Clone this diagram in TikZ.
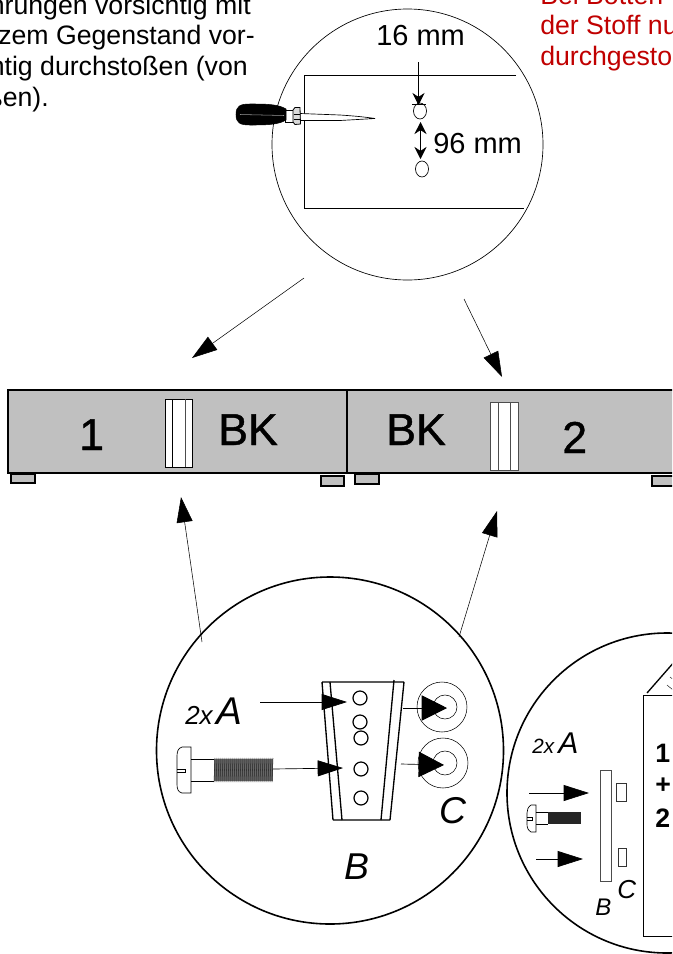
\documentclass[tikz,border=0pt]{standalone}
\usepackage{fontspec}
\setmainfont{Liberation Sans}
\newfontfamily\barfont[FakeBold=1]{Liberation Sans}
\usetikzlibrary{arrows.meta}
\definecolor{barfill}{HTML}{C0C0C0}
\definecolor{notered}{HTML}{C00000}
\tikzset{
    note/.style={anchor=base east, inner sep=0pt, font=\fontsize{20}{24}\selectfont},
    rednote/.style={anchor=base west, inner sep=0pt, text=notered, font=\fontsize{20}{24}\selectfont},
    dim/.style={anchor=base west, inner sep=0pt, font=\fontsize{21.75}{26}\selectfont},
    barlabel/.style={anchor=base west, inner sep=0pt, font=\barfont\fontsize{33.5}{40}\selectfont},
    partlabel/.style={anchor=base west, inner sep=0pt, font=\itshape\fontsize{#1}{#1}\selectfont},
    boldlabel/.style={anchor=base west, inner sep=0pt, font=\bfseries\fontsize{20}{24}\selectfont},
    detail/.style={circle, draw, inner sep=0pt, fill=white},
    bartop/.style={draw, line width=1.4pt, fill=barfill},
    foot/.style={draw, line width=1.2pt, fill=barfill},
    bigarrow/.style={-{Triangle[length=19pt,width=12pt]}, line width=0.4pt},
    partarrow/.style={-{Triangle[length=19pt,width=12pt]}, line width=0.5pt},
    washerarrow/.style={-{Triangle[length=19pt,width=19pt]}, line width=0.5pt},
    dimarrow/.style={-{Stealth[length=9pt,width=9pt]}, line width=0.5pt},
    dimboth/.style={{Stealth[length=9pt,width=9pt]}-{Stealth[length=9pt,width=9pt]}, line width=0.4pt}
}

\begin{document}
\begin{tikzpicture}[x=0.75pt, y=-0.75pt]
        \useasboundingbox (0,0) rectangle (672,954);
        \clip (0,0) rectangle (672,954);

        \node[note] (note1) at (251,14) {hrungen vorsichtig mit};
        \node[note] (note2) at (255,44) {zem Gegenstand vor-};
        \node[note] (note3) at (248,75) {htig durchstoßen (von};
        \node[note] (note4) at (49,106) {ßen).};
        \node[rednote] (red1) at (540,4) {Bei Botten};
        \node[rednote] (red2) at (540,34) {der Stoff nu};
        \node[rednote] (red3) at (540,65) {durchgesto};

        \node[detail, line width=0.5pt, minimum size=203.25pt] (topcircle) at (407.5,144.5) {};
        \draw[line width=0.6pt] (516,75) -- (304,75) -- (304,208) -- (524,208);
        \draw[line width=0.5pt] (420,111) ellipse (6.5 and 8);
        \draw[line width=0.5pt] (422,169) ellipse (6.5 and 8);
        \coordinate (dimstart) at (418.5,62);
        \coordinate (dimend) at (418.5,105);
        \coordinate (gapa) at (420.5,122);
        \coordinate (gapb) at (420.5,159);
        \draw[line width=0.5pt] (412,104) -- (426,104);
        \draw[dimarrow] (dimstart) -- (dimend);
        \draw[dimboth] (gapa) -- (gapb);
        \node[dim] (dim16) at (376,45) {16 mm};
        \node[dim] (dim96) at (433,153) {96 mm};

        \draw[line width=0.5pt, fill=white] (300,113.5) -- (340,115) .. controls (355,116) and (365,117) .. (375,118.5) -- (340,120.5) -- (300,120.5) -- cycle;
        \draw[line width=0.5pt, fill=white] (285,110) rectangle (293,122);
        \draw[line width=0.6pt, fill=black!15] (293,110) -- (295,107.5) -- (300,107.5) -- (300.5,124) -- (295,124.5) -- (293,122) -- cycle;
        \draw[line width=0.5pt] (293.5,114) -- (300,114) (293.5,119) -- (300,119);
        \draw[fill=black] (236,114.5) .. controls (236,106) and (240,104) .. (250,104) .. controls (265,104) and (278,104) .. (286,109) -- (286,120) .. controls (278,125) and (265,125) .. (250,125) .. controls (240,125) and (236,123) .. (236,114.5) -- cycle;
        \draw[white!60!black, line width=0.4pt] (240,114.5) -- (284,115.5);

        \path[bartop] (8,390) rectangle (347,473);
        \path[bartop] (347,390) rectangle (680,473);
        \path[foot] (11,474) rectangle (35,483);
        \path[foot] (321,476) rectangle (344,486);
        \path[foot] (355,474) rectangle (379,484);
        \path[foot] (652,476) rectangle (680,486);
        \draw[line width=0.6pt, fill=white] (165.5,399) rectangle (192,467);
        \draw[line width=0.4pt] (172,399) -- (172,467);
        \draw[line width=0.6pt, black!70] (185,399) -- (185,467);
        \draw[line width=0.6pt, black!70, fill=white] (490,402) rectangle (518,470);
        \draw[line width=0.4pt, black!70] (498,402) -- (498,470);
        \draw[line width=0.4pt, black!70] (510,402) -- (510,470);
        \node[barlabel] (bar1) at (79,450) {1};
        \node[barlabel] (bar2) at (562,453) {2};
        \node[barlabel] (bk1) at (218,445) {BK};
        \node[barlabel] (bk2) at (386,445) {BK};

        \node[detail, line width=1.2pt, minimum size=260.25pt] (leftcircle) at (330,750.5) {};
        \node[detail, line width=1.2pt, minimum size=240pt] (rightcircle) at (667,793) {};

        \coordinate (froma) at (304,278);
        \coordinate (toa) at (192,358);
        \coordinate (fromb) at (464,299);
        \coordinate (tob) at (502,377);
        \coordinate (fromc) at (202,642);
        \coordinate (toc) at (181,497);
        \coordinate (fromd) at (459,637);
        \coordinate (tod) at (497,511);
        \draw[bigarrow] (froma) -- (toa);
        \draw[bigarrow] (fromb) -- (tob);
        \draw[bigarrow] (fromc) -- (toc);
        \draw[bigarrow] (fromd) -- (tod);

        \draw[line width=1pt] (322,682) -- (404,682) (322,682) -- (333,820) (404,682) -- (390,820) (333,820) -- (390,820);
        \draw[line width=1pt] (330,682) -- (342,820) (394,680) -- (381,820);
        \foreach \hx/\hy in {360/698, 360/722, 361/738, 361/769, 361/798}
            \draw[line width=0.9pt] (\hx,\hy) circle (7);
        \draw[line width=0.4pt] (442,707) circle (25) (445,707) circle (12);
        \draw[line width=0.4pt] (443,763) circle (25) (445,763) circle (12);

        \coordinate (astart) at (260,702);
        \coordinate (aend) at (347,702);
        \coordinate (sstart) at (273,769);
        \coordinate (send) at (343,768);
        \coordinate (cstart) at (403,708);
        \coordinate (cend) at (447,708);
        \coordinate (dstart) at (401,764);
        \coordinate (dend) at (444,765);
        \draw[partarrow] (astart) -- (aend);
        \draw[partarrow] (sstart) -- (send);
        \draw[washerarrow] (cstart) -- (cend);
        \draw[washerarrow] (dstart) -- (dend);

        \draw[line width=0.5pt] (191,747) -- (182,747) .. controls (178,748) and (177,752) .. (177,756) -- (177,784) .. controls (177,789) and (178,792) .. (182,793) -- (191,793) -- cycle;
        \draw[line width=0.5pt] (177,769) -- (185,769) -- (185,772) -- (177,772);
        \draw[line width=0.5pt] (191,759) -- (214,759) (191,781) -- (214,781);
        \fill[black!60] (214,759) rectangle (273,781);
        \foreach \tx in {215,217,...,273}
            \draw[line width=0.4pt, black!85] (\tx,758) -- (\tx-1,782);

        \node[partlabel=19.5] (twoxa) at (185,724) {2x};
        \node[partlabel=29, anchor=base west] (parta) at (216,724) {A};
        \node[partlabel=28] (partc) at (439,823) {C};
        \node[partlabel=28] (partb) at (344,879) {B};

        \draw[line width=1pt] (647,693) -- (675,661);
        \draw[line width=0.3pt] (667,685) -- (673,690) (670,677) -- (674,680);
        \draw[line width=0.6pt] (680,695) -- (643,695) -- (643,936) -- (680,936);
        \node[boldlabel] (sum1) at (655,762) {1};
        \node[boldlabel] (sumplus) at (655,793) {+};
        \node[boldlabel] (sum2) at (655,827) {2};

        \draw[line width=0.6pt, black!70] (600,770) rectangle (611,881);
        \draw[line width=0.5pt, black!80] (616,783) rectangle (626,801);
        \draw[line width=0.5pt, black!80] (618,848) rectangle (626,866);
        \coordinate (estart) at (529,793);
        \coordinate (eend) at (589,793);
        \coordinate (fstart) at (536,859);
        \coordinate (fend) at (583,859);
        \draw[partarrow] (estart) -- (eend);
        \draw[partarrow] (fstart) -- (fend);

        \draw[line width=0.5pt] (536,805) -- (531,805) .. controls (528,807) and (527,810) .. (527,813) -- (527,824) .. controls (527,828) and (528,830) .. (531,832) -- (536,832) -- cycle;
        \draw[line width=0.5pt] (527,817) -- (532,817) -- (532,820) -- (527,820);
        \draw[line width=0.5pt] (536,812) -- (548,812) (536,824) -- (548,824);
        \fill[black!85] (548,812) rectangle (581,824);

        \node[partlabel=15.5] (twoxb) at (532,753) {2x};
        \node[partlabel=22.5] (partab) at (558,753) {A};
        \node[partlabel=18] (partbb) at (595,915) {B};
        \node[partlabel=19.5] (partcb) at (617,898) {C};
    \end{tikzpicture}
\end{document}
